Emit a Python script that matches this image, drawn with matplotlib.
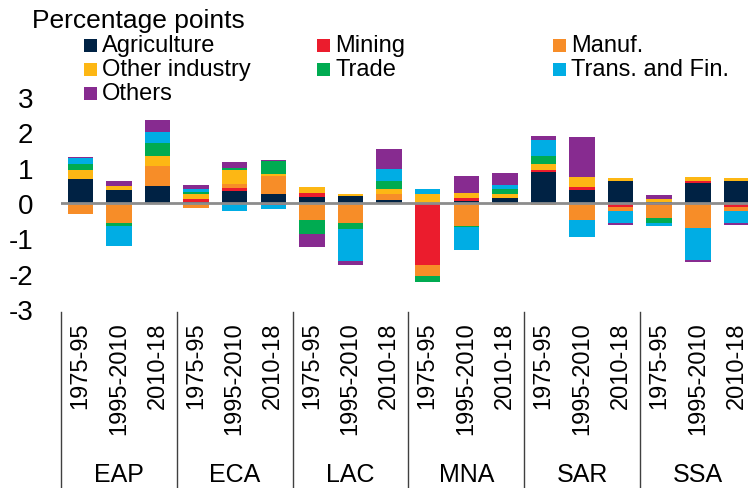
import numpy as np
import matplotlib
matplotlib.use("Agg")
import matplotlib.pyplot as plt
import matplotlib.transforms as mtransforms
from matplotlib.patches import Rectangle

plt.rcParams['font.family'] = ['Liberation Sans', 'DejaVu Sans']
plt.rcParams['axes.unicode_minus'] = False

regions = ['EAP', 'ECA', 'LAC', 'MNA', 'SAR', 'SSA']
periods = ['1975-95', '1995-2010', '2010-18']
sectors = ['Agriculture', 'Mining', 'Manuf.', 'Other industry', 'Trade',
           'Trans. and Fin.', 'Others']
colors = ['#002244', '#eb1c2d', '#f78d28', '#fdb714', '#00ab51', '#00ade4', '#872b90']

# values per sector, bars ordered region by region, period by period
agriculture = [0.69, 0.37, 0.47, 0.04, 0.34, 0.26, 0.17, 0.21, 0.08,
               0.00, 0.06, 0.13, 0.88, 0.38, 0.63, 0.02, 0.57, 0.62]
mining = [0.00, 0.00, 0.00, 0.08, 0.09, -0.05, 0.11, 0.00, 0.00,
          -1.75, 0.07, 0.00, 0.04, 0.07, -0.10, -0.05, 0.04, -0.10]
manuf = [-0.32, -0.58, 0.57, -0.14, 0.10, 0.50, -0.49, -0.58, 0.18,
         -0.31, -0.64, -0.06, -0.05, -0.47, -0.12, -0.37, -0.70, -0.12]
other_industry = [0.24, 0.12, 0.28, 0.13, 0.39, 0.06, 0.18, 0.05, 0.14,
                  0.26, 0.16, 0.12, 0.19, 0.30, 0.09, 0.10, 0.13, 0.09]
trade = [0.16, -0.07, 0.39, 0.07, 0.08, 0.36, -0.39, -0.16, 0.23,
         -0.17, -0.04, 0.15, 0.21, 0.00, 0.00, -0.15, -0.02, 0.00]
trans_fin = [0.17, -0.57, 0.30, 0.09, -0.24, -0.11, 0.00, -0.91, 0.32,
             0.14, -0.64, 0.10, 0.46, -0.48, -0.36, -0.08, -0.88, -0.36]
others = [0.03, 0.13, 0.33, 0.09, 0.15, 0.03, -0.37, -0.10, 0.57,
          -0.02, 0.48, 0.34, 0.11, 1.13, -0.03, 0.10, -0.07, -0.03]

series = [agriculture, mining, manuf, other_industry, trade, trans_fin, others]

W, H = 748, 489
fig = plt.figure(figsize=(W / 100, H / 100), dpi=100)
ax = fig.add_axes([61 / W, 1 - 310 / H, (W - 61) / W, 212 / H])

x = np.arange(len(regions) * len(periods))
pos_bottom = np.zeros(len(x))
neg_bottom = np.zeros(len(x))
for vals, c in zip(series, colors):
    v = np.array(vals)
    pos = np.where(v > 0, v, 0)
    neg = np.where(v < 0, v, 0)
    ax.bar(x, pos, 0.66, bottom=pos_bottom, color=c, linewidth=0)
    ax.bar(x, neg, 0.66, bottom=neg_bottom, color=c, linewidth=0)
    pos_bottom += pos
    neg_bottom += neg

ax.axhline(0, color='#8c8c8c', lw=2, zorder=3)
ax.set_xlim(-0.5, 17.3)
ax.set_ylim(-3, 3)
ax.set_yticks(range(-3, 4))
ax.tick_params(axis='y', length=0, pad=20, labelsize=20)
ax.set_xticks(x)
ax.set_xticklabels(periods * len(regions), rotation=90, fontsize=17)
ax.tick_params(axis='x', length=0, pad=9)
for s in ax.spines.values():
    s.set_visible(False)

trans = mtransforms.blended_transform_factory(ax.transData, ax.transAxes)
for i, r in enumerate(regions):
    left = i * 3 - 0.5
    ax.plot([left, left], [-0.014, -0.845], color='#404040', lw=1,
            transform=trans, clip_on=False)
    ax.text(i * 3 + 1, -0.778, r, transform=trans, ha='center', va='center',
            fontsize=18)

# title and legend
fig.text(32 / W, 1 - 21 / H, 'Percentage points', fontsize=19, va='center', ha='left')
col_x = [84, 317, 553]
row_y = [46, 70, 94]
for i, (name, c) in enumerate(zip(sectors, colors)):
    px = col_x[i % 3]
    py = row_y[i // 3]
    fig.add_artist(Rectangle((px / W, 1 - (py + 6.5) / H), 13 / W, 13 / H,
                             transform=fig.transFigure, color=c, lw=0))
    fig.text((px + 18) / W, 1 - py / H, name, fontsize=17, va='center', ha='left')

fig.savefig('out.png', dpi=100)
